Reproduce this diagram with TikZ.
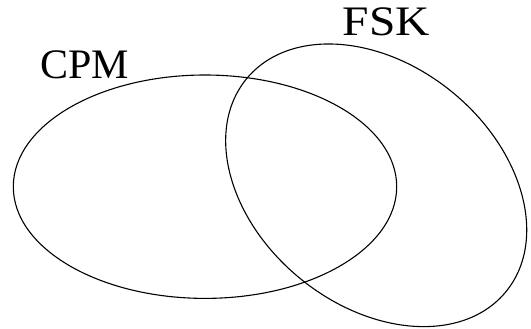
\documentclass[tikz,border=0pt]{standalone}
\usepackage{fontspec}
\setmainfont{Liberation Serif}
\tikzset{
  venn/.style={draw=black, line width=1.1pt},
  lbl/.style={inner sep=0pt, anchor=base west, font=\fontsize{42}{44}\selectfont}
}
\begin{document}
\begin{tikzpicture}[x=1pt, y=-1pt]
\useasboundingbox (0,0) rectangle (531,329);
\draw[venn] (205,186.7) ellipse [x radius=191.7pt, y radius=111.7pt];
\draw[venn, rotate around={-39.35:(376.2,185.3)}] (376.2,185.3) ellipse [x radius=167.8pt, y radius=120.3pt];
\node[lbl] (cpm) at (40,78.5) {CPM};
\node[lbl, xscale=1.13] (fsk) at (342.5,35.5) {FSK};
\end{tikzpicture}
\end{document}
